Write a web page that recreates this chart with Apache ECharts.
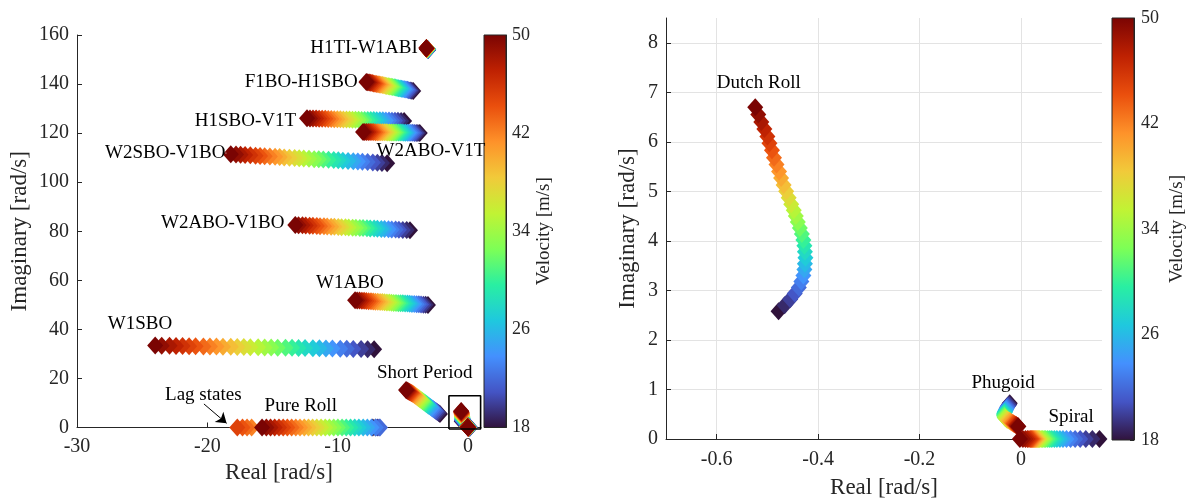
<!DOCTYPE html>
<html>
<head>
<meta charset="utf-8">
<script src="https://cdn.jsdelivr.net/npm/echarts@6.0.0/dist/echarts.min.js"></script>
<style>
  html, body { margin: 0; padding: 0; background: #fff; }
  #chart { width: 1192px; height: 504px; }
</style>
</head>
<body>
<div id="chart"></div>
<script>
// velocity of each point along a branch (m/s)
const velocity = [18,19,20,21,22,23,24,25,26,27,28,29,30,31,32,33,34,35,36,37,38,39,40,41,42,43,44,45,46,47,48,49,50];

// elastic / rigid modes, real and imaginary parts (rad/s), index follows velocity
const h1tiRe = [-3.05,-3.06,-3.06,-3.07,-3.07,-3.08,-3.08,-3.09,-3.09,-3.1,-3.1,-3.11,-3.11,-3.12,-3.12,-3.13,-3.13,-3.14,-3.14,-3.15,-3.15,-3.16,-3.16,-3.17,-3.17,-3.17,-3.18,-3.18,-3.18,-3.19,-3.19,-3.2,-3.2];
const h1tiIm = [154.0,154.0,154.0,154.1,154.1,154.1,154.1,154.2,154.2,154.2,154.2,154.2,154.3,154.3,154.3,154.3,154.3,154.4,154.4,154.4,154.4,154.4,154.5,154.5,154.5,154.5,154.5,154.5,154.6,154.6,154.6,154.6,154.6];

const f1boRe = [-4.2,-4.31,-4.43,-4.54,-4.65,-4.76,-4.88,-4.99,-5.1,-5.21,-5.33,-5.44,-5.55,-5.66,-5.78,-5.89,-6.0,-6.11,-6.23,-6.34,-6.45,-6.56,-6.68,-6.79,-6.9,-7.01,-7.13,-7.24,-7.35,-7.46,-7.58,-7.69,-7.8];
const f1boIm = [137.2,137.3,137.4,137.5,137.7,137.8,137.9,138.0,138.1,138.2,138.3,138.4,138.6,138.7,138.8,138.9,139.0,139.1,139.2,139.3,139.5,139.6,139.7,139.8,139.9,140.0,140.1,140.2,140.4,140.5,140.6,140.7,140.8];

const h1sboRe = [-4.9,-5.13,-5.37,-5.6,-5.83,-6.06,-6.3,-6.53,-6.76,-7.0,-7.23,-7.46,-7.69,-7.93,-8.16,-8.39,-8.63,-8.86,-9.09,-9.32,-9.56,-9.79,-10.02,-10.26,-10.49,-10.72,-10.95,-11.19,-11.42,-11.65,-11.89,-12.12,-12.35];
const h1sboIm = [124.9,124.9,125.0,125.0,125.0,125.1,125.1,125.2,125.2,125.2,125.3,125.3,125.3,125.4,125.4,125.5,125.5,125.5,125.6,125.6,125.6,125.7,125.7,125.7,125.8,125.8,125.9,125.9,125.9,126.0,126.0,126.0,126.1];

const w2aboV1tRe = [-3.7,-3.84,-3.97,-4.11,-4.24,-4.38,-4.52,-4.65,-4.79,-4.92,-5.06,-5.2,-5.33,-5.47,-5.6,-5.74,-5.88,-6.01,-6.15,-6.28,-6.42,-6.56,-6.69,-6.83,-6.96,-7.1,-7.24,-7.37,-7.51,-7.64,-7.78,-7.92,-8.05];
const w2aboV1tIm = [120.1,120.1,120.1,120.1,120.2,120.2,120.2,120.2,120.2,120.2,120.3,120.3,120.3,120.3,120.3,120.3,120.3,120.3,120.3,120.4,120.4,120.4,120.4,120.4,120.4,120.4,120.5,120.5,120.5,120.5,120.5,120.5,120.5];

const w2sboRe = [-6.2,-6.6,-6.95,-7.3,-7.7,-8.1,-8.45,-8.8,-9.2,-9.6,-9.95,-10.3,-10.7,-11.1,-11.45,-11.8,-12.2,-12.6,-12.95,-13.3,-13.7,-14.1,-14.45,-14.8,-15.2,-15.6,-15.95,-16.3,-16.7,-17.1,-17.45,-17.8,-18.2];
const w2sboIm = [107.7,107.8,107.9,108.0,108.2,108.3,108.4,108.5,108.6,108.7,108.9,109.0,109.1,109.2,109.3,109.4,109.6,109.7,109.8,109.9,110.0,110.1,110.3,110.4,110.5,110.6,110.7,110.8,111.0,111.1,111.2,111.3,111.4];

const w2aboV1boRe = [-4.45,-4.7,-5.0,-5.3,-5.55,-5.85,-6.1,-6.4,-6.65,-6.95,-7.2,-7.5,-7.75,-8.05,-8.3,-8.6,-8.85,-9.15,-9.4,-9.7,-9.95,-10.25,-10.5,-10.8,-11.05,-11.35,-11.6,-11.9,-12.15,-12.45,-12.7,-13.0,-13.25];
const w2aboV1boIm = [80.4,80.5,80.5,80.6,80.7,80.7,80.8,80.9,80.9,81.0,81.1,81.1,81.2,81.3,81.3,81.4,81.4,81.5,81.6,81.6,81.7,81.8,81.8,81.9,82.0,82.0,82.1,82.2,82.2,82.3,82.4,82.4,82.5];

const w1aboRe = [-3.07,-3.25,-3.42,-3.6,-3.77,-3.94,-4.12,-4.3,-4.47,-4.64,-4.82,-5.0,-5.17,-5.34,-5.52,-5.7,-5.87,-6.04,-6.22,-6.4,-6.57,-6.74,-6.92,-7.1,-7.27,-7.44,-7.62,-7.8,-7.97,-8.14,-8.32,-8.5,-8.66];
const w1aboIm = [49.9,50.0,50.0,50.1,50.2,50.2,50.3,50.3,50.4,50.5,50.5,50.6,50.7,50.7,50.8,50.8,50.9,51.0,51.0,51.1,51.2,51.2,51.3,51.3,51.4,51.5,51.5,51.6,51.7,51.7,51.8,51.8,51.9];

const w1sboRe = [-7.2,-7.7,-8.2,-8.8,-9.3,-9.8,-10.4,-10.9,-11.4,-11.9,-12.5,-13.0,-13.5,-14.0,-14.6,-15.1,-15.6,-16.1,-16.7,-17.2,-17.7,-18.2,-18.8,-19.3,-19.8,-20.3,-20.9,-21.4,-21.9,-22.4,-22.9,-23.5,-24.0];
const w1sboIm = [31.9,31.9,32.0,32.0,32.1,32.1,32.2,32.2,32.3,32.3,32.4,32.4,32.5,32.5,32.5,32.6,32.6,32.7,32.7,32.8,32.8,32.9,32.9,33.0,33.0,33.0,33.1,33.1,33.2,33.2,33.3,33.3,33.4];

// lag states (own velocities)
const lagRe = [-16.6,-16.95,-17.3,-17.7];
const lagIm = [0,0,0,0];
const lagVel = [42,43,44,45];

const rollRe = [-7.3,-7.1,-6.95,-6.82,-6.75,-7.07,-7.4,-7.72,-8.04,-8.37,-8.69,-9.01,-9.34,-9.66,-9.98,-10.3,-10.63,-10.95,-11.27,-11.6,-11.92,-12.24,-12.56,-12.89,-13.21,-13.53,-13.86,-14.18,-14.5,-14.83,-15.15,-15.47,-15.8];
const rollIm = [0,0,0,0,0,0,0,0,0,0,0,0,0,0,0,0,0,0,0,0,0,0,0,0,0,0,0,0,0,0,0,0,0];

const shortRe = [-2.15,-2.25,-2.36,-2.46,-2.57,-2.67,-2.78,-2.88,-2.99,-3.07,-3.14,-3.22,-3.29,-3.37,-3.45,-3.52,-3.6,-3.68,-3.75,-3.83,-3.9,-3.98,-4.06,-4.13,-4.21,-4.28,-4.34,-4.41,-4.48,-4.55,-4.61,-4.68,-4.75];
const shortIm = [5.5,5.91,6.32,6.72,7.13,7.54,7.95,8.35,8.76,9.07,9.37,9.68,9.98,10.29,10.59,10.9,11.2,11.51,11.81,12.12,12.43,12.73,13.04,13.34,13.65,13.85,14.05,14.26,14.46,14.66,14.86,15.07,15.27];

const dutchRe = [-0.478,-0.466,-0.455,-0.446,-0.438,-0.433,-0.429,-0.427,-0.426,-0.425,-0.426,-0.427,-0.429,-0.432,-0.436,-0.440,-0.444,-0.448,-0.453,-0.458,-0.463,-0.468,-0.473,-0.477,-0.482,-0.487,-0.491,-0.496,-0.500,-0.506,-0.512,-0.518,-0.524];
const dutchIm = [2.58,2.70,2.82,2.94,3.06,3.18,3.30,3.42,3.54,3.66,3.78,3.90,4.02,4.14,4.26,4.38,4.50,4.62,4.74,4.87,5.00,5.13,5.27,5.40,5.54,5.68,5.83,5.97,6.11,6.26,6.40,6.55,6.70];

const phugRe = [-0.022,-0.023,-0.024,-0.026,-0.027,-0.028,-0.029,-0.030,-0.031,-0.032,-0.032,-0.033,-0.033,-0.033,-0.032,-0.032,-0.031,-0.030,-0.028,-0.027,-0.025,-0.023,-0.021,-0.019,-0.017,-0.015,-0.014,-0.012,-0.010,-0.009,-0.008,-0.006,-0.005];
const phugIm = [0.72,0.70,0.68,0.66,0.64,0.62,0.60,0.58,0.56,0.54,0.53,0.51,0.49,0.47,0.46,0.44,0.43,0.42,0.40,0.39,0.38,0.37,0.36,0.34,0.33,0.32,0.31,0.30,0.29,0.28,0.27,0.26,0.25];

const spiralRe = [0.155,0.141,0.128,0.117,0.107,0.098,0.090,0.083,0.077,0.071,0.066,0.061,0.057,0.053,0.049,0.046,0.043,0.040,0.037,0.035,0.033,0.031,0.029,0.027,0.025,0.023,0.021,0.019,0.016,0.013,0.009,0.004,-0.002];
const spiralIm = [0,0,0,0,0,0,0,0,0,0,0,0,0,0,0,0,0,0,0,0,0,0,0,0,0,0,0,0,0,0,0,0,0];

// tick labels
const leftXTicks = [-30, -20, -10, 0];
const rightXTicks = [-0.6, -0.4, -0.2, 0];
const rightYTicks = [0, 1, 2, 3, 4, 5, 6, 7, 8];

// annotations
const leftNotes = ['H1TI-W1ABI', 'F1BO-H1SBO', 'H1SBO-V1T', 'W2ABO-V1T', 'W2SBO-V1BO', 'W2ABO-V1BO', 'W1ABO', 'W1SBO', 'Lag states', 'Pure Roll', 'Short Period'];
const leftNoteX = [-3.81, -8.42, -13.15, -2.84, -18.57, -14.04, -9.06, -25.17, -20.31, -12.83, -3.32];
const leftNoteY = [154.5, 140.9, 125.0, 112.6, 111.9, 83.2, 58.7, 42.2, 13.2, 8.9, 22.3];
const leftNoteSide = ['left', 'left', 'left', 'inside', 'left', 'left', 'inside', 'inside', 'inside', 'inside', 'inside'];
const rightNotes = ['Dutch Roll', 'Phugoid', 'Spiral'];
const rightNoteX = [-0.517, -0.035, 0.099];
const rightNoteY = [7.18, 1.13, 0.44];

// turbo colormap
const turbo = ['#30123b', '#4454c4', '#4490fe', '#1fc8de', '#29efa2', '#7dff56', '#c1f334', '#f1ca3a', '#fe922a', '#ea4f0d', '#be2102', '#7a0403'];

const FONT = 'Liberation Serif';
const AX = '#262626';

const leftModes = [
  { re: h1tiRe, im: h1tiIm },
  { re: f1boRe, im: f1boIm },
  { re: h1sboRe, im: h1sboIm },
  { re: w2aboV1tRe, im: w2aboV1tIm },
  { re: w2sboRe, im: w2sboIm },
  { re: w2aboV1boRe, im: w2aboV1boIm },
  { re: w1aboRe, im: w1aboIm },
  { re: w1sboRe, im: w1sboIm },
  { re: lagRe, im: lagIm, v: lagVel },
  { re: rollRe, im: rollIm },
  { re: shortRe, im: shortIm },
  { re: dutchRe, im: dutchIm },
  { re: phugRe, im: phugIm },
  { re: spiralRe, im: spiralIm },
];
const rightModes = [
  { re: dutchRe, im: dutchIm },
  { re: phugRe, im: phugIm },
  { re: spiralRe, im: spiralIm },
];

const series = [];
const modeIdx = [];

function addModes(list, axisIdx) {
  list.forEach((m) => {
    const vel = m.v || velocity;
    modeIdx.push(series.length);
    series.push({
      type: 'scatter',
      xAxisIndex: axisIdx,
      yAxisIndex: axisIdx,
      symbol: 'diamond',
      symbolSize: [16, 18],
      clip: false,
      silent: true,
      itemStyle: { opacity: 1 },
      data: m.re.map((r, i) => [r, m.im[i], vel[i]]),
    });
  });
}

// text annotations, drawn as labels on invisible points
function addNotes(names, xs, ys, sides, axisIdx, extra) {
  series.push(Object.assign({
    type: 'scatter',
    xAxisIndex: axisIdx,
    yAxisIndex: axisIdx,
    symbolSize: 1,
    clip: false,
    silent: true,
    z: 5,
    itemStyle: { color: '#fff', opacity: 1 },
    label: {
      show: true, formatter: '{b}', color: '#000', opacity: 1,
      fontFamily: FONT, fontSize: 19, distance: 0,
      textBorderWidth: 0, textShadowBlur: 0,
    },
    data: names.map((n, i) => ({ name: n, value: [xs[i], ys[i]], label: { position: sides ? sides[i] : 'inside' } })),
  }, extra || {}));
}

function colorbarItem(params, api) {
  const cs = params.coordSys;
  const top = api.coord([0, 50]);
  const bot = api.coord([0, 18]);
  const stops = turbo.map((c, i) => ({ offset: i / (turbo.length - 1), color: c }));
  return {
    type: 'rect',
    shape: { x: cs.x, y: top[1], width: cs.width, height: bot[1] - top[1] },
    style: { fill: new echarts.graphic.LinearGradient(0, 1, 0, 0, stops), stroke: AX, lineWidth: 1 },
  };
}

addModes(leftModes, 0);
addNotes(leftNotes, leftNoteX, leftNoteY, leftNoteSide, 0, {
  markLine: {
    silent: true,
    symbol: ['none', 'arrow'],
    symbolSize: 10,
    label: { show: false },
    lineStyle: { color: '#000', width: 1, type: 'solid' },
    data: [[{ coord: [-20.26, 9.6] }, { coord: [-18.52, 1.7] }]],
  },
});
// zoom box around the origin
series.push({
  type: 'line', xAxisIndex: 0, yAxisIndex: 0, clip: false, silent: true, symbol: 'none', z: 4,
  lineStyle: { color: '#000', width: 1.6 },
  data: [[-1.46, -0.6], [0.97, -0.6], [0.97, 12.95], [-1.46, 12.95], [-1.46, -0.6]],
});
series.push({ type: 'custom', xAxisIndex: 1, yAxisIndex: 1, silent: true, renderItem: colorbarItem, data: [[0, 50]] });

addModes(rightModes, 2);
addNotes(rightNotes, rightNoteX, rightNoteY, null, 2);
series.push({ type: 'custom', xAxisIndex: 3, yAxisIndex: 3, silent: true, renderItem: colorbarItem, data: [[0, 50]] });

const tickLabel = { color: AX, fontFamily: FONT, fontSize: 20 };
const nameStyle = { color: AX, fontFamily: FONT, fontSize: 23 };

function cbarAxis(idx, gap, margin) {
  return {
    gridIndex: idx, type: 'value', position: 'right', min: 18, max: 50, interval: 8,
    axisLine: { show: true, lineStyle: { color: AX } },
    axisTick: { show: true, inside: true, length: 4, lineStyle: { color: AX } },
    axisLabel: { color: AX, fontFamily: FONT, fontSize: 18, margin: margin },
    splitLine: { show: false },
    name: 'Velocity [m/s]', nameLocation: 'middle', nameRotate: 90, nameGap: gap,
    nameTextStyle: { color: AX, fontFamily: FONT, fontSize: 19 },
  };
}

const option = {
  animation: false,
  textStyle: { fontFamily: FONT },
  grid: [
    { left: 77, top: 35, width: 404, height: 392.5 },
    { left: 484, top: 35, width: 22, height: 392.5 },
    { left: 666, top: 18, width: 436, height: 422 },
    { left: 1112, top: 18, width: 22, height: 422 },
  ],
  xAxis: [
    {
      gridIndex: 0, type: 'value', min: -30, max: 1,
      axisLine: { onZero: false, lineStyle: { color: AX } },
      axisTick: { show: true, inside: true, length: 5, customValues: leftXTicks },
      axisLabel: Object.assign({ margin: 9, customValues: leftXTicks }, tickLabel),
      splitLine: { show: false },
      name: 'Real [rad/s]', nameLocation: 'middle', nameGap: 32, nameTextStyle: nameStyle,
    },
    { gridIndex: 1, type: 'category', data: ['c'], show: false },
    {
      gridIndex: 2, type: 'value', min: -0.7, max: 0.16,
      axisLine: { onZero: false, lineStyle: { color: AX } },
      axisTick: { show: true, inside: true, length: 5, customValues: rightXTicks },
      axisLabel: Object.assign({ margin: 11, customValues: rightXTicks }, tickLabel),
      splitLine: { show: true, lineStyle: { color: '#e3e3e3', width: 1 } },
      name: 'Real [rad/s]', nameLocation: 'middle', nameGap: 37, nameTextStyle: nameStyle,
    },
    { gridIndex: 3, type: 'category', data: ['c'], show: false },
  ],
  yAxis: [
    {
      gridIndex: 0, type: 'value', min: 0, max: 160, interval: 20,
      axisLine: { show: true, onZero: false, lineStyle: { color: AX } },
      axisTick: { show: true, inside: true, length: 5 },
      axisLabel: Object.assign({ margin: 8 }, tickLabel),
      splitLine: { show: false },
      name: 'Imaginary [rad/s]', nameLocation: 'middle', nameRotate: 90, nameGap: 46, nameTextStyle: nameStyle,
    },
    cbarAxis(1, 29, 6),
    {
      gridIndex: 2, type: 'value', min: 0, max: 8.5,
      axisLine: { show: true, onZero: false, lineStyle: { color: AX } },
      axisTick: { show: true, inside: true, length: 5, customValues: rightYTicks },
      axisLabel: Object.assign({ margin: 8, customValues: rightYTicks }, tickLabel),
      splitLine: { show: true, lineStyle: { color: '#e3e3e3', width: 1 } },
      name: 'Imaginary [rad/s]', nameLocation: 'middle', nameRotate: 90, nameGap: 27, nameTextStyle: nameStyle,
    },
    cbarAxis(3, 34, 7),
  ],
  visualMap: {
    type: 'continuous', show: false, min: 18, max: 50, dimension: 2,
    seriesIndex: modeIdx,
    inRange: { color: turbo },
  },
  series: series,
};

const chart = echarts.init(document.getElementById('chart'), null, { renderer: 'canvas' });
chart.setOption(option);
window.addEventListener('resize', () => chart.resize());
</script>
</body>
</html>
